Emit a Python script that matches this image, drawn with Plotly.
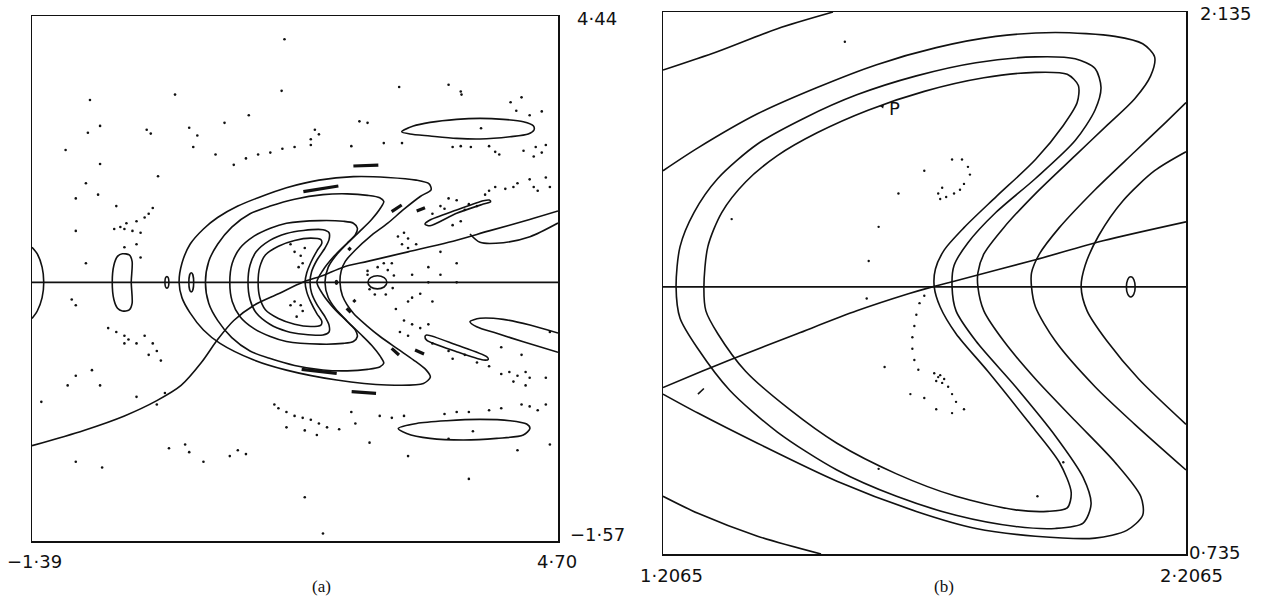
import plotly.graph_objects as go

# ---------------- Panel (a) data (axis units) ----------------
A_XRANGE = [-1.39, 4.70]
A_YRANGE = [-1.57, 4.44]
A_LINE_Y = 1.391

a_sep_x = [-1.39, -0.790, -0.320, 0.055, 0.336, 0.571, 0.759, 0.946, 1.181, 1.463, 1.744, 1.979, 2.213, 2.495, 2.964, 3.433, 3.902, 4.372, 4.70]
a_sep_y = [-0.479, -0.304, -0.138, 0.037, 0.211, 0.473, 0.736, 0.954, 1.129, 1.260, 1.391, 1.470, 1.565, 1.631, 1.740, 1.849, 1.980, 2.111, 2.208]

k1_x = [0.313, 0.346, 0.440, 0.595, 0.759, 0.993, 1.228, 1.556, 1.932, 2.331, 2.729, 3.058, 3.208, 3.231, 3.105, 2.917, 2.729, 2.523, 2.354, 2.237, 2.190, 2.176,
        2.204, 2.331, 2.495, 2.640, 2.847, 3.025, 3.175, 3.222, 3.142, 2.716, 2.138, 1.556, 1.172, 0.787, 0.595, 0.440, 0.346, 0.313]
k1_y = [1.391, 1.609, 1.827, 2.002, 2.133, 2.264, 2.360, 2.474, 2.561, 2.601, 2.592, 2.561, 2.518, 2.452, 2.374, 2.229, 2.068, 1.915, 1.762, 1.631, 1.522, 1.391,
        1.238, 1.037, 0.888, 0.771, 0.627, 0.504, 0.386, 0.307, 0.233, 0.216, 0.273, 0.386, 0.504, 0.692, 0.845, 1.041, 1.216, 1.391]

k2_x = [0.618, 0.656, 0.759, 0.923, 1.134, 1.369, 1.650, 1.979, 2.260, 2.495, 2.636, 2.683, 2.645, 2.542, 2.410, 2.260, 2.120, 2.040, 2.002,
        2.040, 2.120, 2.260, 2.410, 2.542, 2.645, 2.683, 2.636, 2.495, 2.260, 1.979, 1.650, 1.369, 1.134, 0.923, 0.759, 0.656, 0.618]
k2_y = [1.391, 1.631, 1.827, 2.024, 2.177, 2.264, 2.343, 2.395, 2.404, 2.387, 2.360, 2.317, 2.242, 2.111, 1.980, 1.836, 1.688, 1.565, 1.391,
        1.217, 1.094, 0.946, 0.802, 0.671, 0.540, 0.465, 0.422, 0.395, 0.378, 0.387, 0.439, 0.518, 0.605, 0.758, 0.955, 1.151, 1.391]

k3_x = [0.900, 0.928, 1.019, 1.172, 1.369, 1.556, 1.946, 2.213, 2.331, 2.377, 2.354, 2.255, 2.101, 1.979, 1.908,
        1.979, 2.101, 2.255, 2.354, 2.377, 2.331, 2.213, 1.946, 1.556, 1.369, 1.172, 1.019, 0.928, 0.900]
k3_y = [1.391, 1.609, 1.784, 1.915, 2.011, 2.068, 2.098, 2.090, 2.068, 2.011, 1.937, 1.836, 1.683, 1.530, 1.391,
        1.252, 1.099, 0.946, 0.845, 0.771, 0.714, 0.692, 0.684, 0.714, 0.771, 0.867, 0.998, 1.173, 1.391]

k4_x = [1.111, 1.134, 1.205, 1.364, 1.556, 1.753, 1.979, 2.049, 2.049, 2.002, 1.908, 1.847, 1.829,
        1.847, 1.908, 2.002, 2.049, 2.049, 1.979, 1.753, 1.556, 1.364, 1.205, 1.134, 1.111]
k4_y = [1.391, 1.587, 1.740, 1.871, 1.950, 1.985, 1.993, 1.959, 1.880, 1.784, 1.644, 1.513, 1.391,
        1.269, 1.138, 0.998, 0.902, 0.823, 0.789, 0.797, 0.832, 0.911, 1.042, 1.195, 1.391]

k5_x = [1.228, 1.247, 1.312, 1.463, 1.650, 1.838, 1.955, 1.965, 1.908, 1.838, 1.791, 1.772,
        1.791, 1.838, 1.908, 1.965, 1.955, 1.838, 1.650, 1.463, 1.312, 1.247, 1.228]
k5_y = [1.391, 1.565, 1.705, 1.805, 1.871, 1.897, 1.880, 1.836, 1.749, 1.618, 1.500, 1.391,
        1.282, 1.164, 1.033, 0.946, 0.902, 0.885, 0.911, 0.977, 1.077, 1.217, 1.391]

top_isl_x = [2.890, 3.025, 3.218, 3.526, 3.797, 4.067, 4.298, 4.414, 4.422, 4.356, 4.144, 3.797, 3.526, 3.218, 2.986, 2.890]
top_isl_y = [3.115, 3.180, 3.222, 3.257, 3.268, 3.257, 3.230, 3.184, 3.135, 3.089, 3.058, 3.032, 3.039, 3.066, 3.089, 3.115]

bot_isl_x = [2.851, 3.063, 3.411, 3.797, 4.144, 4.337, 4.375, 4.298, 3.990, 3.604, 3.218, 2.948, 2.851]
bot_isl_y = [-0.281, -0.224, -0.193, -0.178, -0.193, -0.231, -0.281, -0.357, -0.395, -0.414, -0.395, -0.338, -0.281]

diag_up_x = [3.160, 3.218, 3.526, 3.835, 3.905, 3.920, 3.835, 3.526, 3.218, 3.160]
diag_up_y = [2.058, 2.104, 2.219, 2.326, 2.333, 2.314, 2.287, 2.181, 2.039, 2.058]

diag_lo_x = [3.160, 3.179, 3.526, 3.874, 3.893, 3.835, 3.526, 3.179, 3.160]
diag_lo_y = [0.769, 0.788, 0.673, 0.540, 0.509, 0.502, 0.597, 0.730, 0.769]

lens_up_x = [3.681, 3.797, 4.067, 4.375, 4.70]
lens_up_y = [1.944, 1.849, 1.845, 1.913, 2.070]

lens_lo_top_x = [4.70, 4.375, 4.067, 3.797, 3.681, 3.758, 3.990, 4.298, 4.70]
lens_lo_top_y = [0.810, 0.902, 0.967, 0.979, 0.940, 0.883, 0.807, 0.711, 0.590]

left_edge_x = [-1.39, -1.329, -1.273, -1.254, -1.273, -1.329, -1.39]
left_edge_y = [1.793, 1.718, 1.565, 1.391, 1.216, 1.063, 0.976]

left_isl_x = [-0.344, -0.400, -0.442, -0.461, -0.442, -0.400, -0.344, -0.264, -0.231, -0.241, -0.231, -0.264, -0.344]
left_isl_y = [1.718, 1.688, 1.587, 1.391, 1.194, 1.094, 1.063, 1.076, 1.150, 1.391, 1.631, 1.705, 1.718]

# small islands on the axis line: (centre x, half width, half height)
a_small_cx = [0.172, 0.454, 2.609, 2.135]
a_small_hw = [0.023, 0.028, 0.110, 0.012]
a_small_hh = [0.066, 0.109, 0.075, 0.020]

# thick dashes: [x0, x1], [y0, y1]
dash_x = [[2.331, 2.620], [1.752, 2.157], [2.774, 2.890], [3.064, 3.160], [2.273, 2.300], [2.331, 2.354],
          [2.253, 2.300], [2.774, 2.859], [3.045, 3.149], [1.732, 2.138], [2.311, 2.593]]
dash_y = [[2.723, 2.734], [2.429, 2.494], [2.200, 2.276], [2.208, 2.246], [1.761, 1.788], [1.189, 1.166],
          [1.093, 1.048], [0.635, 0.559], [0.616, 0.571], [0.395, 0.349], [0.139, 0.120]]

a_dots_x = [1.533, -0.719, 0.266, 1.500, 2.861, 3.433, 3.574, 3.583, 4.151, 4.278, 4.217, 4.512, 4.372, 1.120, 0.839, 2.495, 2.401,
            -0.602, -0.743, -0.062, -0.015, 0.430, 0.524, 3.809, 2.307, 2.683, 2.894, 1.885, 1.932, 1.838, 1.838, 1.650, 1.509, 1.369,
            1.228, 1.087, 0.946, 0.735, 0.477, -1.001, 3.480, 3.574, 3.691, 3.902, 3.973, 4.020, 4.301, 4.442, 4.512, 4.559, 4.419,
            0.069, -0.602, -0.766, -0.883, -0.625, -0.414, -0.438, -0.297, -0.180, -0.086, -0.039, 0.008, -0.133, -0.227, -0.320,
            -0.367, -0.180, -0.320, -0.133, -0.883, -0.766,
            4.231, 4.372, 4.419, 4.465, 4.184, 4.090, 3.973, 3.902, 3.856, 4.559, 4.606, 3.433, 3.339, 3.246, 3.621, 3.762, 3.574,
            3.480, 2.917, 2.964, 2.847, 2.894, 3.058, 2.964, 2.776, 2.683, 2.612, 2.495, 2.495, 2.518, 2.579, 2.706, 2.786, 2.800,
            2.729, 3.011, 3.199, 3.339, 3.527, 3.199, 3.339, 3.527, 3.105, 3.011, 3.246, 2.964, 2.823, 2.917, 3.011, 3.105, 3.199,
            2.870, 2.964, 3.246, 3.433, 3.480, 3.621, 3.762, 3.902, 4.137, 4.231, 4.325, 4.372, 4.184, 4.325, 4.043, 4.559, 4.606,
            4.043, 4.278, 3.527, 3.668, 3.386,
            -0.930, -0.883, -0.508, -0.414, -0.320, -0.273, -0.180, -0.086, 0.008, 0.055, -0.039, 0.102, -0.320, -0.883, -0.977,
            -0.696, -0.602, -1.282, -0.180, 0.055, 0.149,
            1.416, 1.463, 1.556, 1.650, 1.744, 1.838, 1.932, 2.026, 2.166, 1.556, 1.768, 1.908, 2.307, 2.354, 2.518, 2.636, 2.776,
            2.917, 3.386, 3.527, 3.668, 3.902, 4.043, 4.278, 4.372, 4.465, 4.559, 3.715, 4.231, 4.606, 3.433, 0.993, 0.900, 1.087,
            0.196, 0.430, -0.883, -0.578, 0.595, 0.383, 3.668, 2.964, 1.979, 1.768,
            1.650, 1.721, 1.744, 1.697, 1.603, 1.768, 1.650, 1.721, 1.744, 1.674, 1.603]
a_dots_y = [4.173, 3.479, 3.540, 3.583, 3.627, 3.653, 3.575, 3.540, 3.452, 3.509, 3.356, 3.348, 3.304, 3.304, 3.217, 3.217, 3.234,
            3.182, 3.103, 3.138, 3.094, 3.160, 3.072, 3.155, 2.950, 2.985, 2.985, 3.138, 3.085, 3.029, 2.963, 2.941, 2.920, 2.876,
            2.854, 2.810, 2.736, 2.854, 2.941, 2.906, 2.941, 2.950, 2.941, 2.950, 2.885, 2.854, 2.898, 2.941, 2.876, 2.963, 2.832,
            2.605, 2.745, 2.526, 2.352, 2.395, 2.264, 2.002, 2.068, 2.090, 2.133, 2.177, 2.242, 1.959, 1.980, 2.002,
            2.024, 1.827, 1.793, 1.675, 1.980, 1.609,
            2.526, 2.570, 2.483, 2.439, 2.483, 2.461, 2.483, 2.439, 2.395, 2.592, 2.483, 2.352, 2.264, 2.177, 2.221, 2.264, 2.090,
            2.046, 1.959, 1.893, 1.915, 1.827, 1.827, 1.784, 1.609, 1.609, 1.565, 1.522, 1.478, 1.312, 1.251, 1.251, 1.325, 1.469,
            1.531, 1.478, 1.565, 1.478, 1.391, 1.391, 1.740, 1.609, 1.260, 1.216, 1.172, 1.172, 1.085, 0.954, 0.910, 0.867, 0.910,
            0.823, 0.779, 0.692, 0.605, 0.517, 0.561, 0.473, 0.430, 0.364, 0.321, 0.364, 0.299, 0.255, 0.211, 0.342, 0.299, 0.823,
            0.648, 0.561, 2.330, 2.286, 2.233,
            1.194, 1.129, 0.867, 0.823, 0.779, 0.736, 0.692, 0.779, 0.692, 0.605, 0.561, 0.495, 0.692, 0.321, 0.211,
            0.386, 0.211, 0.023, 0.080, -0.007, 0.124,
            -0.007, -0.051, -0.094, -0.138, -0.160, -0.182, -0.225, -0.269, -0.291, -0.269, -0.304, -0.357, -0.094, -0.225, -0.444,
            -0.138, -0.160, -0.138, -0.116, -0.094, -0.094, -0.073, -0.051, -0.007, -0.029, -0.073, -0.007, -0.313, -0.531, -0.466,
            -0.400, -0.531, -0.598, -0.575, -0.509, -0.553, -0.662, -0.728, -0.662, -0.466, -0.859, -0.598, -1.484, -1.069,
            1.740, 1.696, 1.609, 1.565, 1.827, 1.784, 1.172, 1.129, 1.063, 0.998, 1.129]

# ---------------- Panel (b) data (axis units) ----------------
B_XRANGE = [1.2065, 2.2065]
B_YRANGE = [0.735, 2.135]
B_LINE_Y = 1.425

b_sep_x = [1.2065, 1.2809, 1.3340, 1.4631, 1.5770, 1.6757, 1.7213, 1.7668, 1.9187, 2.0478, 2.2065]
b_sep_y = [1.165, 1.207, 1.236, 1.304, 1.363, 1.407, 1.425, 1.441, 1.495, 1.544, 1.593]

bo_x = [1.2315, 1.2391, 1.2657, 1.3113, 1.3872, 1.4783, 1.5770, 1.6909, 1.8048, 1.9187, 1.9946, 2.0326, 2.0440, 2.0326, 1.9946,
        1.9187, 1.8428, 1.7896, 1.7630, 1.7592,
        1.7668, 1.8048, 1.8807, 1.9567, 2.0098, 2.0250, 2.0098, 1.9567, 1.8807, 1.7668, 1.6530, 1.5391, 1.4252, 1.3340, 1.2733,
        1.2391, 1.2315]
bo_y = [1.425, 1.529, 1.617, 1.705, 1.794, 1.862, 1.921, 1.970, 2.004, 2.019, 2.014, 1.989, 1.940, 1.882, 1.803,
        1.705, 1.617, 1.539, 1.480, 1.425,
        1.363, 1.285, 1.167, 1.040, 0.933, 0.864, 0.815, 0.801, 0.806, 0.835, 0.884, 0.952, 1.050, 1.158, 1.265,
        1.344, 1.425]

bi_x = [1.2847, 1.2923, 1.3188, 1.3644, 1.4252, 1.5011, 1.5998, 1.7061, 1.8200, 1.9187, 1.9794, 2.0007, 1.9984, 1.9719, 1.9187,
        1.8428, 1.7820, 1.7441, 1.7274, 1.7251,
        1.7365, 1.7668, 1.8276, 1.9035, 1.9643, 1.9870, 1.9794, 1.9415, 1.8807, 1.7668, 1.6530, 1.5391, 1.4479, 1.3644, 1.3113,
        1.2885, 1.2847]
bi_y = [1.425, 1.529, 1.617, 1.696, 1.764, 1.823, 1.882, 1.930, 1.965, 1.979, 1.974, 1.945, 1.901, 1.842, 1.754,
        1.657, 1.578, 1.520, 1.471, 1.425,
        1.373, 1.304, 1.207, 1.079, 0.972, 0.894, 0.854, 0.845, 0.849, 0.884, 0.942, 1.021, 1.109, 1.207, 1.304,
        1.363, 1.425]

c1_x = [1.2065, 1.2733, 1.3872, 1.5011, 1.6150, 1.7289, 1.8428, 1.9567, 2.0706, 2.1237, 2.1465, 2.1389, 2.1085, 2.0554, 1.9946,
        1.9187, 1.8580, 1.8200, 1.8086, 1.8086, 1.8200, 1.8580, 1.9187, 1.9946, 2.0706, 2.1199, 2.1237, 2.0933, 2.0326, 1.9187,
        1.8048, 1.6909, 1.5391, 1.3872, 1.2733, 1.2065]
c1_y = [1.725, 1.784, 1.872, 1.940, 1.999, 2.043, 2.072, 2.082, 2.072, 2.053, 2.019, 1.970, 1.911, 1.842, 1.764,
        1.666, 1.578, 1.510, 1.461, 1.425, 1.363, 1.285, 1.187, 1.079, 0.972, 0.884, 0.835, 0.796, 0.776, 0.781,
        0.801, 0.845, 0.923, 1.021, 1.099, 1.148]

c2_x = [2.2065, 2.1693, 2.1085, 2.0326, 1.9643, 1.9263, 1.9111, 1.9111, 1.9187, 1.9567, 2.0326, 2.1085, 2.2065]
c2_y = [1.901, 1.852, 1.774, 1.676, 1.578, 1.510, 1.461, 1.425, 1.373, 1.285, 1.167, 1.070, 0.952]

c3_x = [2.2065, 2.1465, 2.0857, 2.0402, 2.0136, 2.0060, 2.0174, 2.0554, 2.1161, 2.2065]
c3_y = [1.774, 1.725, 1.647, 1.559, 1.480, 1.425, 1.363, 1.285, 1.187, 1.070]

t1_x = [1.2065, 1.3113, 1.4252, 1.5315]
t1_y = [1.985, 2.033, 2.092, 2.135]
t2_x = [1.2065, 1.2733, 1.3872, 1.5087]
t2_y = [0.884, 0.840, 0.781, 0.735]

b_tick_x = [1.2733, 1.2847]
b_tick_y = [1.148, 1.1625]

b_small_cx = [2.1009]
b_small_hw = [0.0084]
b_small_hh = [0.026]

b_dots_x = [1.7592, 1.7782, 1.7896, 1.7934, 1.7820, 1.7744, 1.7630, 1.7479, 1.7365, 1.7327, 1.7403, 1.7061, 1.6567, 1.5542,
            1.3378, 1.6188, 1.5998, 1.5960,
            1.7061, 1.6970, 1.6909, 1.6871, 1.6833, 1.6833, 1.6871, 1.6947, 1.7251, 1.7365, 1.7441, 1.7403, 1.7289, 1.7327,
            1.7517, 1.7592, 1.7668, 1.7820, 1.7592, 1.7289, 1.7061, 1.6302, 1.6795, 1.6188, 1.9225, 1.9719]
b_dots_y = [1.754, 1.754, 1.735, 1.715, 1.691, 1.676, 1.666, 1.657, 1.652, 1.666, 1.681, 1.725, 1.666, 2.058,
            1.600, 1.580, 1.492, 1.395,
            1.402, 1.383, 1.353, 1.324, 1.295, 1.265, 1.236, 1.211, 1.202, 1.197, 1.187, 1.177, 1.182, 1.192,
            1.167, 1.148, 1.128, 1.109, 1.099, 1.109, 1.138, 1.218, 1.148, 0.955, 0.884, 0.972]

P_POINT = (1.6188, 1.893)

# ---------------- Figure ----------------
INK = "#111111"
LW = 1.6
fig = go.Figure()


def curve(xs, ys, ax, width=LW, spline=True):
    fig.add_trace(go.Scatter(x=xs, y=ys, mode="lines", xaxis=ax[0], yaxis=ax[1],
                             line=dict(color=INK, width=width, shape="spline" if spline else "linear", smoothing=0.8),
                             hoverinfo="skip"))


A = ("x", "y")
B = ("x2", "y2")

# panel (a)
curve(A_XRANGE, [A_LINE_Y, A_LINE_Y], A, spline=False)
curve(a_sep_x, a_sep_y, A)
for xs, ys in [(k1_x, k1_y), (k2_x, k2_y), (k3_x, k3_y), (k4_x, k4_y), (k5_x, k5_y),
               (top_isl_x, top_isl_y), (bot_isl_x, bot_isl_y), (diag_up_x, diag_up_y), (diag_lo_x, diag_lo_y),
               (lens_up_x, lens_up_y), (lens_lo_top_x, lens_lo_top_y), (left_edge_x, left_edge_y),
               (left_isl_x, left_isl_y)]:
    curve(xs, ys, A)
for xs, ys in zip(dash_x, dash_y):
    curve(xs, ys, A, width=3.2, spline=False)
fig.add_trace(go.Scatter(x=a_dots_x, y=a_dots_y, mode="markers", xaxis="x", yaxis="y",
                         marker=dict(color=INK, size=2.6), hoverinfo="skip"))

# panel (b)
curve(B_XRANGE, [B_LINE_Y, B_LINE_Y], B, spline=False)
curve(b_sep_x, b_sep_y, B)
for xs, ys in [(bo_x, bo_y), (bi_x, bi_y), (c1_x, c1_y), (c2_x, c2_y), (c3_x, c3_y), (t1_x, t1_y), (t2_x, t2_y)]:
    curve(xs, ys, B)
curve(b_tick_x, b_tick_y, B, spline=False)
fig.add_trace(go.Scatter(x=b_dots_x, y=b_dots_y, mode="markers", xaxis="x2", yaxis="y2",
                         marker=dict(color=INK, size=2.4), hoverinfo="skip"))

shapes = []
for cx, hw, hh in zip(a_small_cx, a_small_hw, a_small_hh):
    shapes.append(dict(type="circle", xref="x", yref="y", x0=cx - hw, x1=cx + hw,
                       y0=A_LINE_Y - hh, y1=A_LINE_Y + hh, line=dict(color=INK, width=LW)))
for cx, hw, hh in zip(b_small_cx, b_small_hw, b_small_hh):
    shapes.append(dict(type="circle", xref="x2", yref="y2", x0=cx - hw, x1=cx + hw,
                       y0=B_LINE_Y - hh, y1=B_LINE_Y + hh, line=dict(color=INK, width=LW)))

W, H = 1261, 597
LF = dict(family="DejaVu Sans", size=18, color=INK)


def lab(text, px, py, font=LF):
    return dict(text=text, x=px / W, y=1 - py / H, xref="paper", yref="paper",
                showarrow=False, xanchor="center", yanchor="middle", font=font)


SF = dict(family="Liberation Serif", size=17, color=INK)
annotations = [
    lab("\u22121\u00b739", 34, 561), lab("4\u00b770", 557, 561), lab("4\u00b744", 597, 18), lab("\u22121\u00b757", 597, 534),
    lab("(a)", 321, 586, SF),
    lab("2\u00b7135", 1226, 14), lab("0\u00b7735", 1215, 552), lab("1\u00b72065", 671, 575), lab("2\u00b72065", 1191, 575),
    lab("(b)", 944, 586, SF),
    dict(text="P", x=P_POINT[0], y=P_POINT[1], xref="x2", yref="y2", showarrow=True, ax=16, ay=3,
         arrowhead=2, arrowsize=0.8, arrowwidth=1, arrowcolor=INK, standoff=1, startstandoff=6,
         font=dict(family="DejaVu Sans", size=18, color=INK)),
]

axis_common = dict(showline=True, mirror=True, linecolor=INK, linewidth=1.5, showticklabels=False,
                   ticks="", showgrid=False, zeroline=False)
fig.update_layout(
    width=W, height=H, margin=dict(l=0, r=0, t=0, b=0),
    paper_bgcolor="white", plot_bgcolor="white", showlegend=False, hovermode=False,
    xaxis=dict(domain=[32 / W, 558 / W], range=A_XRANGE, anchor="y", **axis_common),
    yaxis=dict(domain=[1 - 541 / H, 1 - 16 / H], range=A_YRANGE, anchor="x", **axis_common),
    xaxis2=dict(domain=[663 / W, 1186 / W], range=B_XRANGE, anchor="y2", **axis_common),
    yaxis2=dict(domain=[1 - 554 / H, 1 - 12 / H], range=B_YRANGE, anchor="x2", **axis_common),
    shapes=shapes, annotations=annotations,
)

# remove the browser's default 8px page margin so the figure sits at the page origin
fig.write_html("out.html", config={"displayModeBar": False, "staticPlot": True},
               post_script="document.body.style.margin='0px';document.body.style.overflow='hidden';")
